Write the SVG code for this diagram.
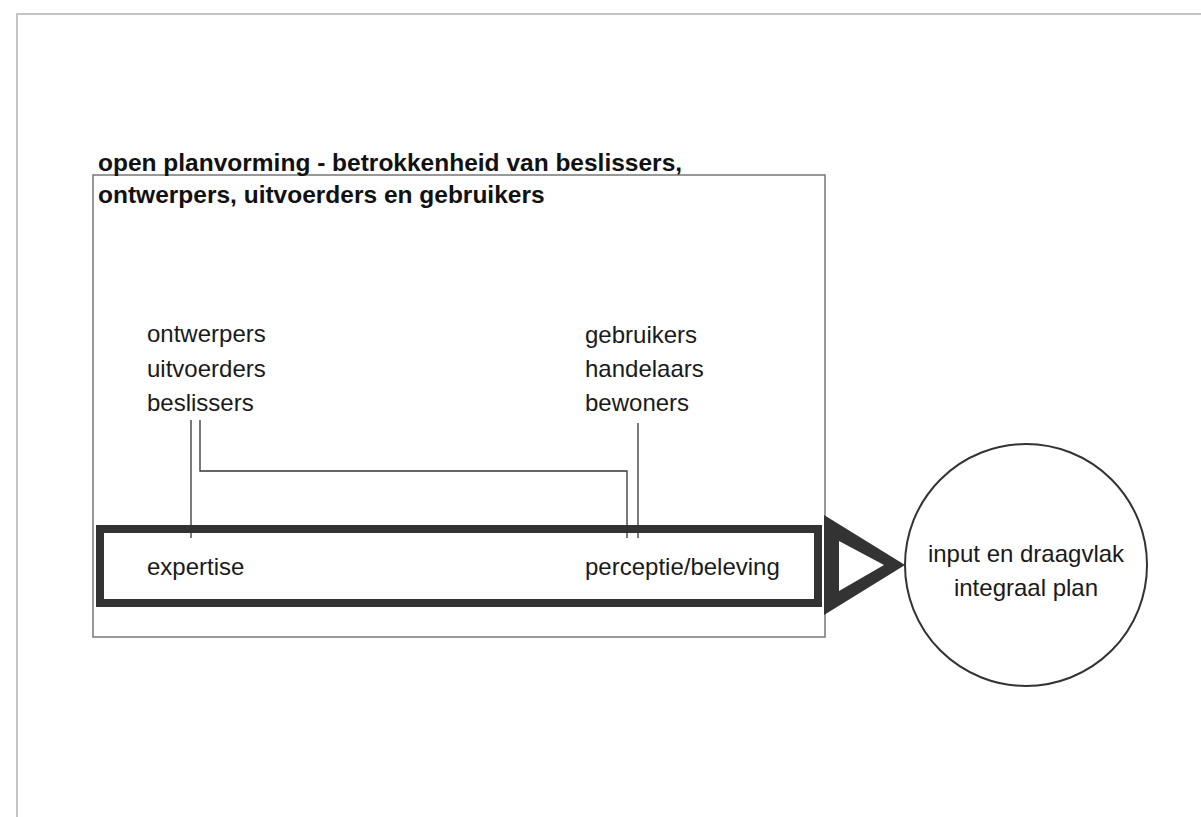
<svg xmlns="http://www.w3.org/2000/svg" width="1201" height="817" viewBox="0 0 1201 817">
<style>
.t{font-family:"Liberation Sans",Arial,sans-serif;font-size:24px;fill:#1a1a1a}
.b{font-family:"Liberation Sans",Arial,sans-serif;font-size:24.5px;font-weight:bold;fill:#111}
.thin{fill:none;stroke:#333;stroke-width:1.3}
</style>
<rect width="1201" height="817" fill="#fff"/>
<path d="M17,817 V14 H1201" fill="none" stroke="#c4c4c4" stroke-width="2"/>
<g id="frame">
<rect x="93" y="175" width="732" height="462" fill="none" stroke="#777" stroke-width="1.5"/>
<text class="b" x="98" y="171">open planvorming - betrokkenheid van beslissers,</text>
<text class="b" x="98" y="203">ontwerpers, uitvoerders en gebruikers</text>
</g>
<g id="group-experts">
<text class="t" x="147" y="342">ontwerpers</text>
<text class="t" x="147" y="377">uitvoerders</text>
<text class="t" x="147" y="411">beslissers</text>
</g>
<g id="group-users">
<text class="t" x="585" y="343">gebruikers</text>
<text class="t" x="585" y="377">handelaars</text>
<text class="t" x="585" y="411">bewoners</text>
</g>
<g id="bar">
<rect x="100" y="529" width="718" height="74" fill="none" stroke="#333" stroke-width="8"/>
<text class="t" x="147" y="575">expertise</text>
<text class="t" x="585" y="575">perceptie/beleving</text>
</g>
<g id="arrow">
<path d="M824,515 L905,565 L824,615 Z M839,541 L839,591 L884,565 Z" fill="#333" fill-rule="evenodd"/>
</g>
<g id="result">
<circle cx="1026" cy="565" r="121" fill="none" stroke="#333" stroke-width="2"/>
<text class="t" x="1026" y="562" text-anchor="middle">input en draagvlak</text>
<text class="t" x="1026" y="596" text-anchor="middle">integraal plan</text>
</g>
<g id="connectors">
<line class="thin" x1="191" y1="420" x2="191" y2="538"/>
<polyline class="thin" points="200,420 200,471 627,471 627,538"/>
<line class="thin" x1="638" y1="423" x2="638" y2="538"/>
</g>
</svg>
